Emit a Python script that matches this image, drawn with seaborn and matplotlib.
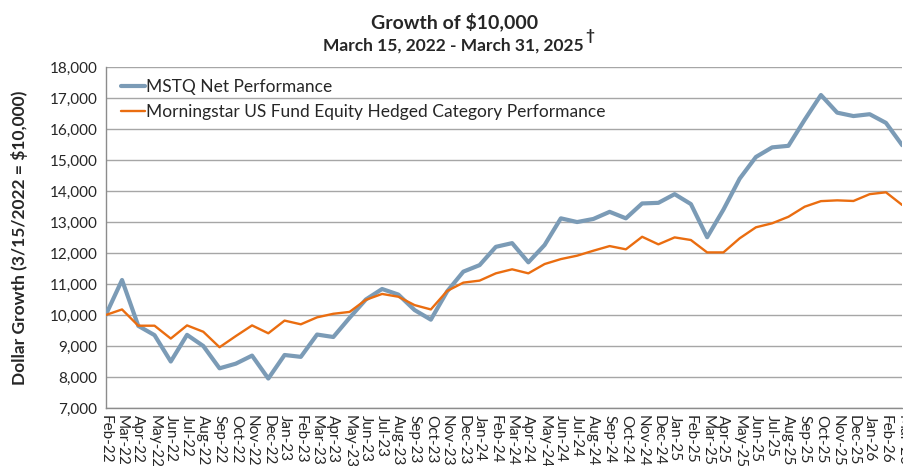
import numpy as np
import pandas as pd
import matplotlib.pyplot as plt
import seaborn as sns

# month labels on the x axis
months = ["Feb-22", "Mar-22", "Apr-22", "May-22", "Jun-22", "Jul-22", "Aug-22", "Sep-22",
          "Oct-22", "Nov-22", "Dec-22", "Jan-23", "Feb-23", "Mar-23", "Apr-23", "May-23",
          "Jun-23", "Jul-23", "Aug-23", "Sep-23", "Oct-23", "Nov-23", "Dec-23", "Jan-24",
          "Feb-24", "Mar-24", "Apr-24", "May-24", "Jun-24", "Jul-24", "Aug-24", "Sep-24",
          "Oct-24", "Nov-24", "Dec-24", "Jan-25", "Feb-25", "Mar-25", "Apr-25", "May-25",
          "Jun-25", "Jul-25", "Aug-25", "Sep-25", "Oct-25", "Nov-25", "Dec-25", "Jan-26",
          "Feb-26", "Mar-26"]

# MSTQ net performance (growth of $10,000)
mstq = [10000, 11130, 9650, 9350, 8500, 9360, 9000, 8280, 8430, 8690,
        7950, 8710, 8650, 9370, 9290, 9910, 10500, 10840, 10660, 10160,
        9850, 10760, 11400, 11610, 12200, 12320, 11700, 12260, 13120, 13000,
        13100, 13330, 13120, 13600, 13620, 13900, 13580, 12510, 13400, 14400,
        15100, 15410, 15460, 16300, 17100, 16530, 16420, 16480, 16200, 15480]

# Morningstar US Fund Equity Hedged category
category = [10000, 10180, 9655, 9655, 9240, 9665, 9460, 8960, 9320, 9665,
            9410, 9820, 9700, 9925, 10040, 10100, 10490, 10680, 10590, 10320,
            10180, 10775, 11045, 11110, 11345, 11475, 11345, 11645, 11805, 11915,
            12075, 12225, 12120, 12525, 12280, 12505, 12420, 12020, 12020, 12475,
            12830, 12960, 13170, 13495, 13675, 13700, 13680, 13900, 13960, 13550]

yticks = list(range(7000, 18001, 1000))

sns.set_style("white")
plt.rcParams["font.family"] = ["Lato", "DejaVu Sans"]

df = pd.DataFrame({"idx": np.arange(len(months)), "mstq": mstq, "cat": category})

fig = plt.figure(figsize=(9.04, 4.66), dpi=100)
ax = fig.add_axes([0.117, 0.1245, 0.881, 0.7315])

for y in yticks:
    ax.axhline(y, color="#a6a6a6", lw=1.0, zorder=0)

sns.lineplot(data=df, x="idx", y="mstq", ax=ax, color="#7b9bb6", lw=3.0,
             label="MSTQ Net Performance", zorder=3)
sns.lineplot(data=df, x="idx", y="cat", ax=ax, color="#ea6d10", lw=1.7,
             label="Morningstar US Fund Equity Hedged Category Performance", zorder=4)

ax.set_xlim(0, len(months) - 1)
ax.set_ylim(7000, 18000)
ax.set_yticks(yticks)
ax.set_yticklabels([f"{v:,}" for v in yticks], fontsize=11)
ax.set_xticks(range(len(months)))
ax.set_xticklabels(months, rotation=-90, fontsize=11, va="top", ha="center")
ax.tick_params(axis="both", length=4, width=1, color="#8c8c8c", pad=2, direction="out")
ax.tick_params(axis="x", pad=1)

for s in ["top", "right"]:
    ax.spines[s].set_visible(False)
for s in ["left", "bottom"]:
    ax.spines[s].set_color("#8c8c8c")
    ax.spines[s].set_linewidth(1.0)

ax.set_xlabel("")
ax.set_ylabel("Dollar Growth (3/15/2022 = $10,000)", fontsize=12.5, fontweight="bold", labelpad=6)
ax.yaxis.set_label_coords(-0.098, 0.5)

leg = ax.legend(loc="upper left", frameon=False, fontsize=12.5, handlelength=1.35,
                handletextpad=0.05, borderaxespad=0.0, labelspacing=0.5,
                bbox_to_anchor=(0.011, 0.985))

fig.text(0.503, 0.953, "Growth of $10,000", ha="center", va="center",
         fontsize=14, fontweight="bold")
sub = fig.text(0.502, 0.903, "March 15, 2022 - March 31, 2025", ha="center", va="center",
               fontsize=12.5, fontweight="bold")
fig.canvas.draw()
bb = sub.get_window_extent().transformed(fig.transFigure.inverted())
fig.text(bb.x1 + 0.001, bb.y1 + 0.003, "\u2020", ha="left", va="center",
         fontsize=11, fontweight="bold")

fig.savefig("out.png", dpi=100)
